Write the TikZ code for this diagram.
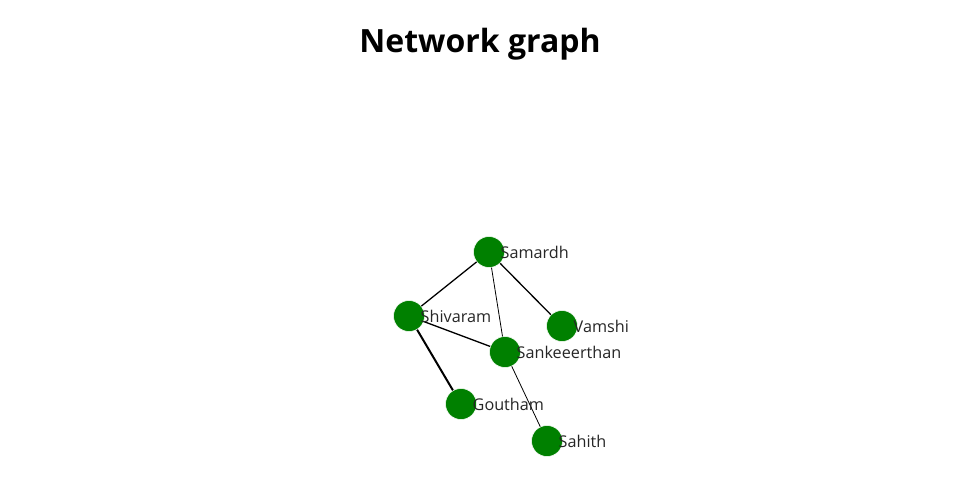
\documentclass[tikz,border=0pt]{standalone}
\usepackage{fontspec}
\setmainfont{Open Sans}
\definecolor{nodegreen}{HTML}{008000}
\definecolor{labelgray}{HTML}{262626}
\begin{document}
\begin{tikzpicture}[x=1pt,y=-1pt,
  vert/.style={circle,fill=nodegreen,draw=white,line width=0.5pt,minimum size=31pt,inner sep=0pt},
  lbl/.style={anchor=west,text=labelgray,font=\fontsize{16.2}{19}\selectfont,inner sep=0pt},
  edge/.style={draw=black,line width=1.3pt},
  thinedge/.style={draw=black,line width=0.8pt},
  thickedge/.style={draw=black,line width=2pt}]
\useasboundingbox (0,0) rectangle (960,500);
\node[font=\bfseries\fontsize{32}{38}\selectfont] (title) at (480,44.5) {Network graph};
\coordinate (samardh) at (489,252);
\coordinate (shivaram) at (409,316);
\coordinate (vamshi) at (562,326);
\coordinate (sank) at (505,352);
\coordinate (goutham) at (461,404);
\coordinate (sahith) at (547,441);
\draw[edge] (samardh) -- (shivaram);
\draw[thinedge] (samardh) -- (sank);
\draw[edge] (samardh) -- (vamshi);
\draw[edge] (shivaram) -- (sank);
\draw[thickedge] (shivaram) -- (goutham);
\draw[thinedge] (sank) -- (sahith);
\node[vert] (nsamardh) at (samardh) {};
\node[vert] (nshivaram) at (shivaram) {};
\node[vert] (nvamshi) at (vamshi) {};
\node[vert] (nsank) at (sank) {};
\node[vert] (ngoutham) at (goutham) {};
\node[vert] (nsahith) at (sahith) {};
\node[lbl] (lsamardh) at (500.5,252) {Samardh};
\node[lbl] (lshivaram) at (420.5,316) {Shivaram};
\node[lbl] (lvamshi) at (573.5,326) {Vamshi};
\node[lbl] (lsank) at (516.5,352) {Sankeeerthan};
\node[lbl] (lgoutham) at (472.5,404) {Goutham};
\node[lbl] (lsahith) at (558.5,441) {Sahith};
\end{tikzpicture}
\end{document}
